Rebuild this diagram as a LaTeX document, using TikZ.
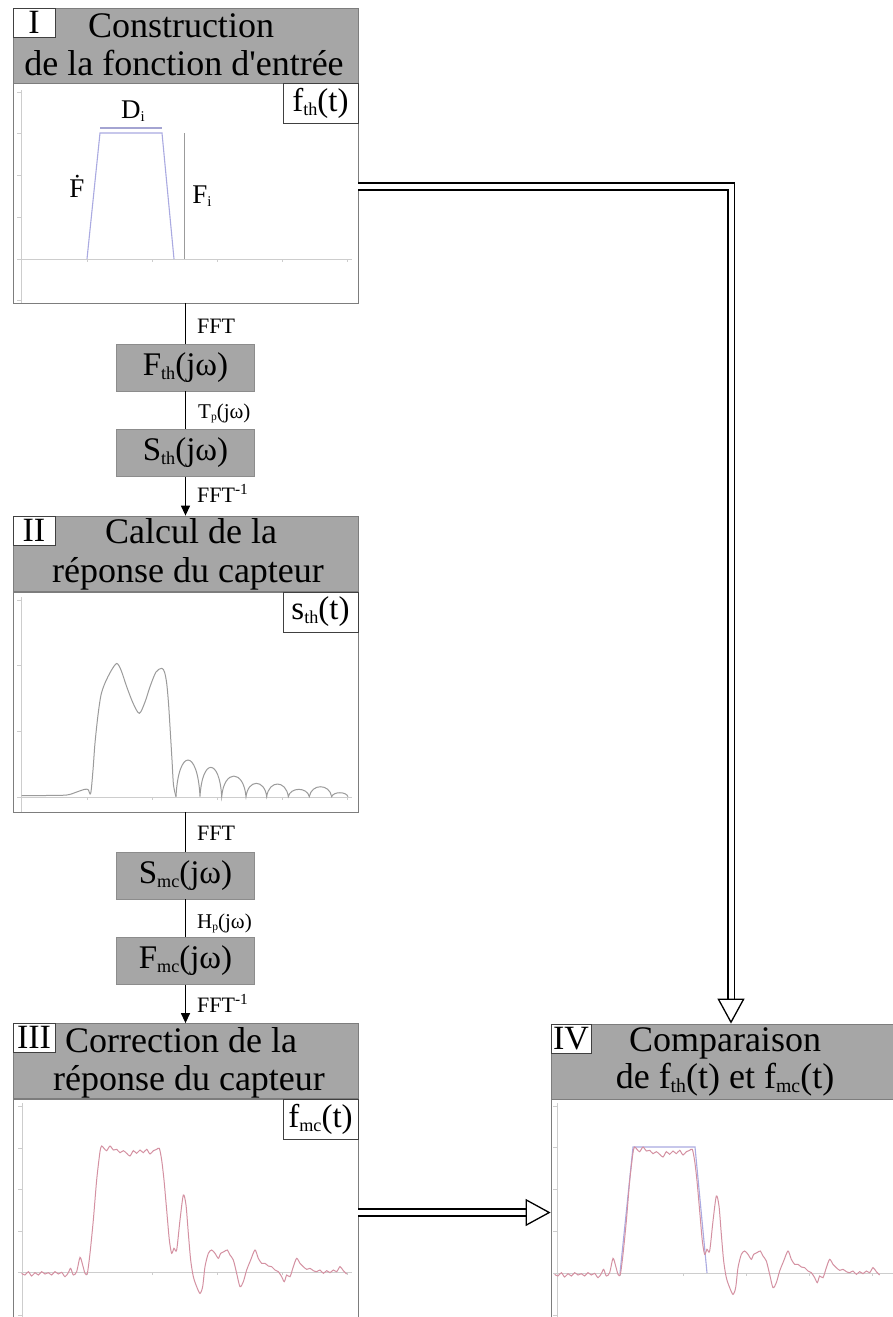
\documentclass[tikz,border=0pt]{standalone}
\usepackage{fontspec}
\setmainfont{Liberation Serif}
\usepackage{graphicx}
\usetikzlibrary{arrows.meta}
\definecolor{hdrgray}{RGB}{166,166,166}
\definecolor{framegray}{RGB}{125,125,125}
\definecolor{axisgray}{RGB}{205,205,205}
\definecolor{bluecurve}{RGB}{170,170,225}
\definecolor{redcurve}{RGB}{212,145,162}
\definecolor{graycurve}{RGB}{155,155,155}
\newcommand{\sbs}[1]{\raisebox{-0.12em}{\scalebox{0.55}{#1}}}
\newcommand{\trapcurve}{\draw[bluecurve, line width=1.1pt] (87,259) -- (100,133) -- (162,133) -- (174,259);}
\newcommand{\fmccurve}{\draw[redcurve, line width=1pt] plot[smooth, tension=0.45] coordinates {
(65,760) (75,765) (85,755) (95,768) (105,758) (115,765) (125,755) (135,762) (145,758) (155,765) (165,755) (175,762) (185,757) (195,770) (205,758) (212,745) (220,765) (230,755) (240,712) (248,735) (255,760) (262,760)
(270,700) (280,600) (290,480) (300,395) (305,378) (312,385) (320,392) (330,378) (340,390) (350,388) (360,398) (370,392) (380,400) (390,408) (400,392) (410,400) (420,390) (430,398) (440,388) (450,402) (460,392) (470,388) (478,385)
(485,420) (492,480) (500,570) (508,660) (515,700) (522,685) (530,690) (540,600) (550,525) (558,555) (565,640) (572,720) (580,770) (590,800) (600,820) (608,800) (615,740) (625,700) (635,690) (645,700) (655,715) (662,700) (672,695) (682,690) (690,705) (700,720) (710,760) (720,800) (730,785) (740,750) (752,720) (765,690) (775,715) (785,730) (795,730) (805,738) (815,740) (825,750) (835,755) (845,770) (853,785) (860,765) (870,770) (880,740) (890,715) (900,730) (910,740) (920,748) (930,745) (940,752) (950,755) (960,750) (970,760) (980,752) (990,758) (1000,750) (1010,755) (1020,740) (1030,752) (1040,762)};}
\begin{document}
\begin{tikzpicture}[x=1pt,y=-1pt,
  hdrbox/.style={draw=framegray, fill=hdrgray, line width=0.8pt, minimum width=345pt, minimum height=75pt, inner sep=0pt},
  plotbox/.style={draw=framegray, line width=0.8pt, minimum width=345pt, minimum height=220pt, inner sep=0pt},
  hdrtext/.style={anchor=base, inner sep=0pt, font=\fontsize{36}{38}\selectfont},
  numbox/.style={draw=black!75, fill=white, line width=0.6pt, minimum width=42pt, minimum height=29pt, inner sep=0pt, font=\fontsize{34}{34}\selectfont},
  fnbox/.style={draw=black!75, fill=white, line width=0.6pt, minimum width=75pt, minimum height=40pt, inner sep=0pt, font=\fontsize{33}{33}\selectfont},
  freqbox/.style={draw=black!45, fill=hdrgray, line width=0.6pt, minimum width=138pt, minimum height=47pt, inner sep=0pt, font=\fontsize{33}{33}\selectfont},
  lbl/.style={anchor=base west, inner sep=0pt, font=\fontsize{22}{22}\selectfont},
  curvelbl/.style={anchor=base, inner sep=0pt, font=\fontsize{27}{27}\selectfont},
  conn/.style={line width=1.3pt, draw=black},
  dbl/.style={draw=black, double=white, double distance=5pt, line width=1.6pt},
  axisline/.style={draw=axisgray, line width=0.8pt}
]
\clip (0,0) rectangle (893,1317);
\fill[white] (0,0) rectangle (893,1317);

% ---------- Panel I ----------
\node[hdrbox] (h1) at (185.5,45.5) {};
\node[plotbox] (p1) at (185.5,193) {};
\node[numbox] (n1) at (34,22.5) {I};
\node[hdrtext] (t1a) at (181,37) {Construction};
\node[hdrtext] (t1b) at (184,75) {de la fonction d\textquotesingle entrée};
\node[fnbox] (f1) at (320.5,103) {f\sbs{th}(t)};
\draw[axisline] (21,90) -- (21,303);
\foreach \yy in {92,133,175,217,259,300} \draw[axisline] (17,\yy) -- (21,\yy);
\draw[axisline] (21,259) -- (352,259);
\foreach \xx in {87,152,217,282,347} \draw[axisline] (\xx,259) -- (\xx,262);
\trapcurve
\draw[bluecurve!85!gray, line width=1.3pt] (100,128) -- (162,128);
\draw[graycurve, line width=0.9pt] (184,133) -- (184,259);
\node[curvelbl] (di) at (133,118) {D\sbs{i}};
\node[curvelbl] (fdot) at (77,197) {\.{F}};
\node[curvelbl] (fi) at (202,203) {F\sbs{i}};

% ---------- chain I -> II ----------
\node[freqbox] (fth) at (185.5,367.5) {F\sbs{th}(jω)};
\node[freqbox] (sth) at (185.5,453) {S\sbs{th}(jω)};
\node[hdrbox] (h2) at (185.5,553.5) {};
\draw[conn] (p1.south) -- (fth.north);
\draw[conn] (fth.south) -- (sth.north);
\draw[conn, -{Triangle[length=10pt,width=9pt]}] (sth.south) -- (h2.north);
\node[lbl] (l1) at (197,333) {FFT};
\node[lbl, font=\fontsize{21}{21}\selectfont] (l2) at (198,418) {T\sbs{p}(jω)};
\node[lbl] (l3) at (197,502) {FFT\textsuperscript{-1}};

% ---------- Panel II ----------
\node[plotbox] (p2) at (185.5,702) {};
\node[numbox] (n2) at (34,530.5) {II};
\node[hdrtext] (t2a) at (191,543) {Calcul de la};
\node[hdrtext] (t2b) at (188,582) {réponse du capteur};
\node[fnbox] (f2) at (320.5,612) {s\sbs{th}(t)};
\draw[axisline] (21,597) -- (21,812);
\foreach \yy in {600,665,731,797} \draw[axisline] (17,\yy) -- (21,\yy);
\draw[axisline] (21,797) -- (352,797);
\foreach \xx in {87,152,217,282,347} \draw[axisline] (\xx,797) -- (\xx,800);
\draw[graycurve, line width=1pt] plot[smooth, tension=0.5] coordinates {
(21.7,795.5) (45,795.5) (66.7,795) (76.7,792) (84,789.5) (88,789.5) (90.7,793.3) (93,770) (95,743) (98,715) (101,695) (105,683) (111,671) (116.7,663.5) (121,670) (126.7,686.7) (133,703) (139.3,713.3) (145,702) (150,686.7) (156,672) (161.7,668.3) (164.5,672) (166.7,683.3) (168.5,703) (170,726.7) (172,760) (173.5,785) (176,796.7)};
\draw[graycurve, line width=1pt] (176,796.7)
  .. controls (178.4,747.8) and (197.6,747.8) .. (200,796.7)
  .. controls (202.2,757.6) and (219.5,757.6) .. (221.7,796.7)
  .. controls (224.1,769.2) and (243.6,769.2) .. (246,796.7)
  .. controls (248.1,778.9) and (264.6,778.9) .. (266.7,796.7)
  .. controls (268.9,779.8) and (286.1,779.8) .. (288.3,796.7)
  .. controls (290.4,786.9) and (307.2,786.9) .. (309.3,796.7)
  .. controls (311.5,783.4) and (329.5,783.4) .. (331.7,796.7)
  .. controls (333.3,791.4) and (346.4,791.4) .. (348,796.7);

% ---------- chain II -> III ----------
\node[freqbox] (smc) at (185.5,875.5) {S\sbs{mc}(jω)};
\node[freqbox] (fmc) at (185.5,961) {F\sbs{mc}(jω)};
\node[hdrbox] (h3) at (185.5,1061) {};
\draw[conn] (p2.south) -- (smc.north);
\draw[conn] (smc.south) -- (fmc.north);
\draw[conn, -{Triangle[length=10pt,width=9pt]}] (fmc.south) -- (h3.north);
\node[lbl] (l4) at (197,840) {FFT};
\node[lbl, font=\fontsize{21}{21}\selectfont] (l5) at (197,928) {H\sbs{p}(jω)};
\node[lbl] (l6) at (197,1012) {FFT\textsuperscript{-1}};

% ---------- Panel III ----------
\node[plotbox] (p3) at (185.5,1209) {};
\node[numbox] (n3) at (34,1037.5) {III};
\node[hdrtext] (t3a) at (181,1052) {Correction de la};
\node[hdrtext] (t3b) at (189,1090) {réponse du capteur};
\node[fnbox] (f3) at (320.5,1119) {f\sbs{mc}(t)};
\draw[axisline] (22,1103) -- (22,1317);
\foreach \yy in {1106,1148,1189,1231,1272,1315} \draw[axisline] (18,\yy) -- (22,\yy);
\draw[axisline] (22,1272) -- (352,1272);
\foreach \xx in {87,152,217,282,347} \draw[axisline] (\xx,1272) -- (\xx,1275);
\begin{scope}[shift={(0,1020)}, x=0.33333pt, y=-0.33333pt]
\fmccurve
\end{scope}

% ---------- Panel IV ----------
\node[hdrbox] (h4) at (723.5,1061.5) {};
\node[plotbox] (p4) at (723.5,1209.5) {};
\node[numbox, minimum width=40pt] (n4) at (571,1038.5) {IV};
\node[hdrtext] (t4a) at (725,1051) {Comparaison};
\node[hdrtext] (t4b) at (725,1088) {de f\sbs{th}(t) et f\sbs{mc}(t)};
\draw[axisline] (557,1103) -- (557,1317);
\foreach \yy in {1106,1147,1189,1231,1273,1315} \draw[axisline] (553,\yy) -- (557,\yy);
\draw[axisline] (557,1273) -- (893,1273);
\foreach \xx in {620,683,746,809,872} \draw[axisline] (\xx,1273) -- (\xx,1276);
\begin{scope}[shift={(533,1014)}]
\trapcurve
\end{scope}
\begin{scope}[shift={(533,1021)}, x=0.33333pt, y=-0.33333pt]
\fmccurve
\end{scope}

% ---------- double arrows ----------
\coordinate (bend1) at (731,186.5);
\coordinate (base1) at (731,999);
\coordinate (tip1) at (bend1 |- h4.north);
\draw[dbl] (p1.east |- bend1) -- (bend1) -- (base1);
\draw[line width=1.3pt, -{Triangle[length=25pt,width=27pt,fill=white]}] (731,998.8) -- (tip1);

\coordinate (base2) at (526,1212.5);
\coordinate (tip2) at (p4.west |- base2);
\draw[dbl] (p3.east |- base2) -- (base2);
\draw[line width=1.3pt, -{Triangle[length=25pt,width=27pt,fill=white]}] (525.8,1212.5) -- (tip2);
\end{tikzpicture}
\end{document}
